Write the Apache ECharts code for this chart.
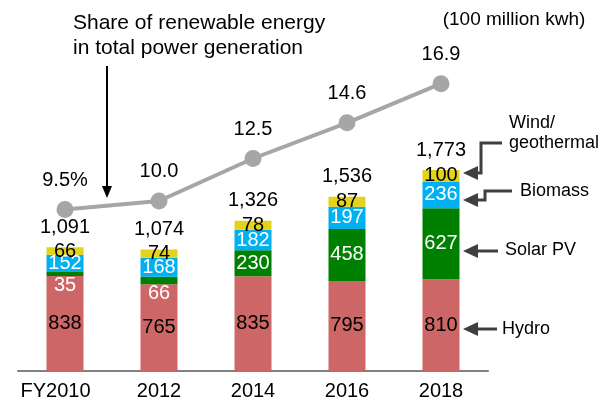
<!DOCTYPE html>
<html>
<head>
<meta charset="utf-8">
<script src="https://cdn.jsdelivr.net/npm/echarts@6/dist/echarts.min.js"></script>
<style>
  html, body { margin: 0; padding: 0; background: #ffffff; }
  #chart { width: 607px; height: 401px; }
</style>
</head>
<body>
<div id="chart"></div>
<script>
// Renewable power generation by source (100 million kWh) and renewable share (%)
const years = ['FY2010', '2012', '2014', '2016', '2018'];
const hydro = [838, 765, 835, 795, 810];
const solarPV = [35, 66, 230, 458, 627];
const biomass = [152, 168, 182, 197, 236];
const windGeo = [66, 74, 78, 87, 100];
const totals = [1091, 1074, 1326, 1536, 1773];
const renewableShare = [9.5, 10.0, 12.5, 14.6, 16.9];

const FONT = '"Liberation Sans", Arial, sans-serif';
const ARROW = '#3f3f3f';

const chart = echarts.init(document.getElementById('chart'), null, { renderer: 'canvas' });

function segLabel(color) {
  return { show: true, position: 'inside', color: color, fontSize: 20, fontFamily: FONT };
}

// thin solar segments carry their label just below the bar piece
const solarData = solarPV.map(v => v < 100
  ? { value: v, label: { position: 'bottom', distance: -1 } }
  : v);

const catData = years.map((y, i) => i === 0
  ? { value: y, textStyle: { padding: [0, 19, 0, 0] } }
  : y);

function arrowHead(tipX, tipY) {
  return {
    type: 'polygon',
    shape: { points: [[tipX, tipY], [tipX + 15, tipY - 7], [tipX + 15, tipY + 7]] },
    style: { fill: ARROW }
  };
}
function textEl(x, y, str, size, align) {
  return {
    type: 'text', x: x, y: y,
    style: { text: str, fill: '#000', font: size + 'px ' + FONT, textAlign: align || 'left', textVerticalAlign: 'middle' }
  };
}

const option = {
  animation: false,
  backgroundColor: '#ffffff',
  grid: { left: 18, right: 119, top: 31, bottom: 30, containLabel: false },
  xAxis: {
    type: 'category',
    data: catData,
    axisTick: { show: false },
    axisLine: { lineStyle: { color: '#808080', width: 2 } },
    axisLabel: { color: '#000', fontSize: 20, fontFamily: FONT, margin: 10 }
  },
  yAxis: [
    { type: 'value', min: 0, max: 3000, show: false },
    { type: 'value', min: 0, max: 20, show: false }
  ],
  series: [
    { name: 'Hydro', type: 'bar', stack: 'gen', barWidth: 37, data: hydro,
      itemStyle: { color: '#CD6767' }, label: segLabel('#000') },
    { name: 'Solar PV', type: 'bar', stack: 'gen', barWidth: 37, data: solarData,
      itemStyle: { color: '#008000' }, label: segLabel('#fff') },
    { name: 'Biomass', type: 'bar', stack: 'gen', barWidth: 37, data: biomass,
      itemStyle: { color: '#00B0F0' }, label: segLabel('#fff') },
    { name: 'Wind/geothermal', type: 'bar', stack: 'gen', barWidth: 37, data: windGeo,
      itemStyle: { color: '#E4D21B' }, label: segLabel('#000') },
    { name: 'Total', type: 'scatter', data: totals, symbolSize: 0, silent: true,
      itemStyle: { opacity: 1, color: '#000' },
      label: { show: true, position: 'top', distance: 10, color: '#000', fontSize: 20, fontFamily: FONT,
        formatter: p => p.value.toLocaleString('en-US') } },
    { name: 'Share', type: 'line', yAxisIndex: 1, data: renewableShare,
      symbol: 'circle', symbolSize: 17,
      lineStyle: { color: '#A6A6A6', width: 4 },
      itemStyle: { color: '#A6A6A6' },
      label: { show: true, position: 'top', distance: 11, color: '#000', fontSize: 20, fontFamily: FONT,
        formatter: p => p.dataIndex === 0 ? p.value.toFixed(1) + '%' : p.value.toFixed(1) } }
  ],
  graphic: [
    textEl(73, 23, 'Share of renewable energy', 21),
    textEl(73, 48, 'in total power generation', 21),
    { type: 'line', shape: { x1: 107, y1: 66, x2: 107, y2: 187 }, style: { stroke: '#000', lineWidth: 2 } },
    { type: 'polygon', shape: { points: [[107, 198], [102, 186], [112, 186]] }, style: { fill: '#000' } },
    textEl(514, 20, '(100 million kwh)', 19, 'center'),
    textEl(509, 123, 'Wind/', 18),
    textEl(509, 143, 'geothermal', 18),
    { type: 'polyline', shape: { points: [[502, 143], [481, 143], [481, 173], [474, 173]] },
      style: { stroke: ARROW, lineWidth: 3, fill: null } },
    arrowHead(463, 173),
    textEl(520, 191, 'Biomass', 18),
    { type: 'polyline', shape: { points: [[512, 191], [485, 191], [485, 200], [474, 200]] },
      style: { stroke: ARROW, lineWidth: 3, fill: null } },
    arrowHead(463, 200),
    textEl(505, 250, 'Solar PV', 18),
    { type: 'line', shape: { x1: 498, y1: 251, x2: 474, y2: 251 }, style: { stroke: ARROW, lineWidth: 3 } },
    arrowHead(463, 251),
    textEl(502, 329, 'Hydro', 18),
    { type: 'line', shape: { x1: 497, y1: 329, x2: 474, y2: 329 }, style: { stroke: ARROW, lineWidth: 3 } },
    arrowHead(463, 329)
  ]
};

chart.setOption(option);
</script>
</body>
</html>
